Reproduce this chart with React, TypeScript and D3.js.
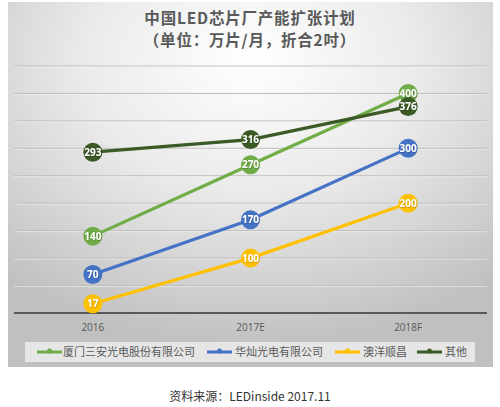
import React from "react";
import * as d3 from "d3";

const categories = ["2016", "2017E", "2018F"];
const seriesNames = ["厦门三安光电股份有限公司", "华灿光电有限公司", "澳洋顺昌", "其他"];
const sananValues = [140, 270, 400];
const huacanValues = [70, 170, 300];
const aoyangValues = [17, 100, 200];
const otherValues = [293, 316, 376];
const seriesColors = ["#70ad47", "#4472c4", "#ffc000", "#3b5a26"];
const gridTicks = [50, 100, 150, 200, 250, 300, 350, 400, 450];
const titleLines = ["中国LED芯片厂产能扩张计划", "（单位：万片/月，折合2吋）"];
const caption = "资料来源：LEDinside 2017.11";

const W = 500;
const H = 407;
const CJK = "'Noto Sans CJK SC', 'Noto Sans', sans-serif";

export default function App() {
  const allSeries = [sananValues, huacanValues, aoyangValues, otherValues];
  const x = d3.scaleBand<string>().domain(categories).range([14, 487]);
  const y = d3.scaleLinear().domain([0, 450]).range([313, 66]);
  const line = d3
    .line<number>()
    .x((_, i) => (x(categories[i]) as number) + x.bandwidth() / 2)
    .y((d) => y(d));

  const legendItems = [
    { x: 37, tx: 63 },
    { x: 207, tx: 235 },
    { x: 335, tx: 363 },
    { x: 417, tx: 445 },
  ];

  return (
    <div style={{ position: "absolute", left: 0, top: 0, width: W, height: H, background: "#fff" }}>
      <svg width={W} height={H} style={{ display: "block" }}>
        <defs>
          <radialGradient id="bg" cx="50%" cy="20%" r="75%" fx="50%" fy="15%">
            <stop offset="0%" stopColor="#ffffff" />
            <stop offset="45%" stopColor="#ebebeb" />
            <stop offset="100%" stopColor="#c0c0c0" />
          </radialGradient>
          <filter id="ts" x="-20%" y="-20%" width="140%" height="140%">
            <feDropShadow dx="0.5" dy="0.5" stdDeviation="0.4" floodColor="#000" floodOpacity="0.4" />
          </filter>
        </defs>
        <rect x={8} y={2} width={485} height={365} fill="url(#bg)" />
        {titleLines.map((t, i) => (
          <text
            key={i}
            x={250}
            y={24 + i * 22}
            textAnchor="middle"
            fontFamily={CJK}
            fontWeight="bold"
            fontSize={15.5}
            letterSpacing={0.8}
            fill="#595959"
          >
            {t}
          </text>
        ))}
        {gridTicks.map((t) => (
          <g key={t}>
            <line x1={14} x2={487} y1={y(t)} y2={y(t)} stroke="#bdbdbd" strokeWidth={1} />
            <line x1={14} x2={487} y1={y(t) + 1} y2={y(t) + 1} stroke="#f4f4f4" strokeWidth={0.6} />
          </g>
        ))}
        <line x1={14} x2={487} y1={y(0)} y2={y(0)} stroke="#595959" strokeWidth={2} />
        {categories.map((c) => (
          <text
            key={c}
            x={(x(c) as number) + x.bandwidth() / 2}
            y={331}
            textAnchor="middle"
            fontFamily="'Open Sans', sans-serif"
            fontSize={10}
            fill="#595959"
          >
            {c}
          </text>
        ))}
        {allSeries.map((vals, si) => (
          <path key={si} d={line(vals) as string} fill="none" stroke={seriesColors[si]} strokeWidth={3.2} />
        ))}
        {allSeries.map((vals, si) => (
          <g key={si}>
            {vals.map((v, i) => {
              const cx = (x(categories[i]) as number) + x.bandwidth() / 2;
              const cy = y(v);
              return (
                <g key={i}>
                  <circle cx={cx} cy={cy} r={9.5} fill={seriesColors[si]} />
                  <text
                    x={cx}
                    y={cy + 3.6}
                    textAnchor="middle"
                    fontFamily="'Open Sans', sans-serif"
                    fontWeight="bold"
                    fontSize={10}
                    fill="#ffffff"
                    filter="url(#ts)"
                  >
                    {v}
                  </text>
                </g>
              );
            })}
          </g>
        ))}
        <rect x={25} y={342} width={450} height={20} fill="#e6e6e6" />
        {seriesNames.map((n, i) => (
          <g key={n}>
            <line
              x1={legendItems[i].x}
              x2={legendItems[i].x + 25}
              y1={352}
              y2={352}
              stroke={seriesColors[i]}
              strokeWidth={3}
            />
            <circle cx={legendItems[i].x + 12.5} cy={351} r={2.5} fill={seriesColors[i]} />
            <text
              x={legendItems[i].tx}
              y={356}
              fontFamily={CJK}
              fontSize={11}
              fill="#595959"
            >
              {n}
            </text>
          </g>
        ))}
        <text x={250} y={401} textAnchor="middle" fontFamily={CJK} fontSize={12} fill="#333333">
          {caption}
        </text>
      </svg>
    </div>
  );
}
